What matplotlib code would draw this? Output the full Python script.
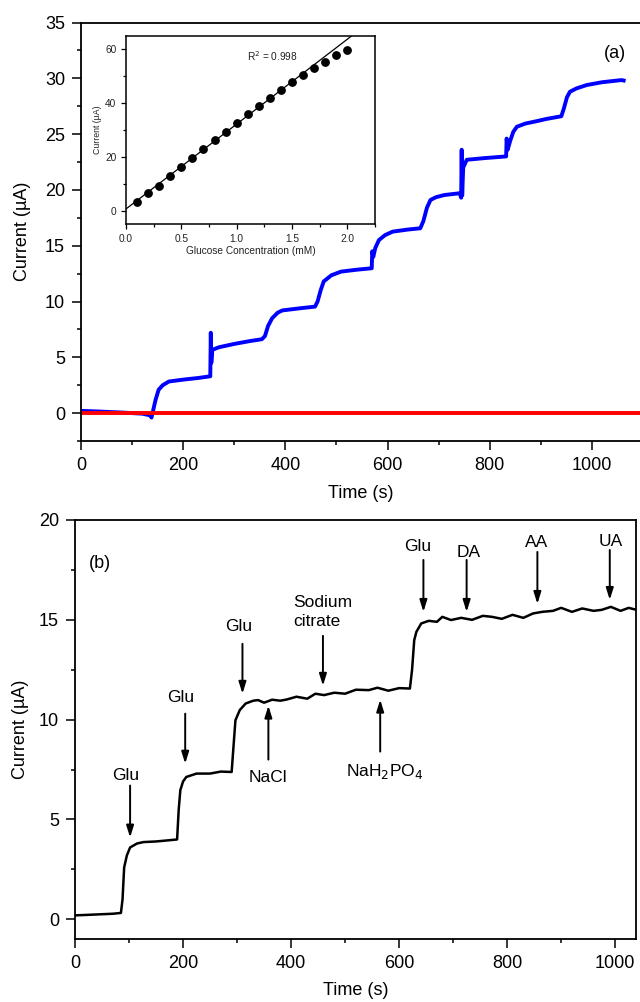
"""
Amperometric glucose response: (a) successive glucose additions with
calibration inset, (b) interference test with common species.
"""

import matplotlib.pyplot as plt
from matplotlib.ticker import MultipleLocator

plt.rcParams["font.family"] = ["Liberation Sans", "DejaVu Sans"]

# ── Panel (a): step response ──────────────────────────────────────────────────
TIME_A = [0, 30, 80, 120, 135, 138, 140, 146, 152, 160, 172, 200, 230, 253,
          254, 255, 257, 270, 300, 330, 354, 360, 366, 374, 385, 394, 430, 458,
          463, 469, 475, 490, 509, 540, 569, 570, 572, 576, 583, 595, 610, 640,
          664, 670, 677, 684, 695, 711, 741, 744, 745, 746, 748, 755, 790, 832,
          833, 835, 840, 846, 853, 870, 886, 910, 940, 945, 951, 957, 970, 990,
          1020, 1058, 1062]
CURRENT_A = [0.2, 0.15, 0.05, -0.05, -0.2, -0.4, 0.0, 1.2, 2.1, 2.5, 2.83, 3.0,
             3.15, 3.3, 7.2, 4.5, 5.67, 5.9, 6.2, 6.45, 6.62, 6.9, 7.8, 8.5,
             9.0, 9.2, 9.4, 9.54, 10.0, 11.0, 11.8, 12.35, 12.68, 12.85, 12.98,
             14.5, 14.0, 14.8, 15.5, 15.95, 16.26, 16.45, 16.56, 17.2, 18.4,
             19.1, 19.35, 19.54, 19.7, 19.3, 23.6, 19.5, 22.0, 22.7, 22.85,
             23.0, 24.6, 23.6, 24.4, 25.2, 25.66, 25.95, 26.1, 26.35, 26.6,
             27.3, 28.3, 28.8, 29.1, 29.4, 29.65, 29.84, 29.8]
BLANK_TIME = [0, 1100]
BLANK_CURRENT = [0.0, 0.0]

# Inset: calibration points
CONC = [0.1, 0.2, 0.3, 0.4, 0.5, 0.6, 0.7, 0.8, 0.9, 1.0,
        1.1, 1.2, 1.3, 1.4, 1.5, 1.6, 1.7, 1.8, 1.9, 2.0]
CAL_CURRENT = [3.1, 6.4, 9.3, 13.0, 16.3, 19.7, 22.9, 26.1, 29.4, 32.7,
               35.9, 39.1, 42.1, 44.9, 47.9, 50.6, 53.1, 55.5, 57.8, 59.8]
FIT_SLOPE = 31.6
FIT_INTERCEPT = 0.6

# ── Panel (b): interference test ──────────────────────────────────────────────
TIME_B = [1, 20, 45, 70, 85, 88, 91, 96, 102, 115, 127, 150, 170, 189, 192, 195,
          200, 206, 225, 250, 270, 290, 293, 297, 305, 316, 330, 339, 350, 365,
          380, 392, 410, 430, 445, 461, 480, 500, 520, 544, 560, 580, 600, 620,
          624, 628, 632, 641, 655, 670, 680, 696, 715, 735, 755, 772, 790, 810,
          830, 848, 865, 885, 900, 920, 939, 960, 975, 992, 1010, 1025, 1041]
CURRENT_B = [0.2, 0.22, 0.25, 0.28, 0.32, 1.0, 2.6, 3.2, 3.6, 3.8, 3.87, 3.9,
             3.95, 4.0, 5.5, 6.47, 6.9, 7.13, 7.3, 7.3, 7.4, 7.38, 8.5, 9.97,
             10.48, 10.81, 10.95, 10.98, 10.85, 11.0, 10.95, 11.01, 11.15,
             11.05, 11.3, 11.23, 11.35, 11.3, 11.5, 11.48, 11.6, 11.45, 11.58,
             11.56, 12.5, 13.98, 14.4, 14.82, 14.95, 14.9, 15.15, 14.99, 15.1,
             15.0, 15.2, 15.15, 15.05, 15.25, 15.1, 15.32, 15.4, 15.45, 15.6,
             15.4, 15.57, 15.45, 15.5, 15.65, 15.45, 15.6, 15.49]

# Arrow annotations: label, arrow x, tail y, head y, text x, text y
LABELS = ["Glu", "Glu", "Glu", "NaCl", "Sodium\ncitrate", "NaH$_2$PO$_4$",
          "Glu", "DA", "AA", "UA"]
ARROW_X = [102, 204, 310, 358, 459, 565, 645, 725, 856, 990]
ARROW_TAIL = [6.7, 10.3, 13.8, 8.0, 14.2, 8.4, 18.0, 18.0, 18.4, 18.5]
ARROW_HEAD = [4.1, 7.8, 11.3, 10.7, 11.7, 11.0, 15.4, 15.4, 15.8, 16.0]
TEXT_X = [93, 195, 303, 358, 404, 574, 635, 729, 854, 992]
TEXT_Y = [7.2, 11.1, 14.65, 7.1, 15.4, 7.4, 18.65, 18.35, 18.85, 18.9]

TICK_KW = dict(direction="out", width=1.1)


def style_axis(ax):
    ax.tick_params(which="major", length=6.5, labelsize=13, pad=5, **TICK_KW)
    ax.tick_params(which="minor", length=3.2, **TICK_KW)
    for s in ax.spines.values():
        s.set_linewidth(1.3)


fig = plt.figure(figsize=(6.4, 10.02), dpi=100)

# ── (a) ──
ax_a = fig.add_axes([81 / 640, 1 - 441 / 1002, 1 - 81 / 640, (441 - 22.5) / 1002])
ax_a.plot(TIME_A, CURRENT_A, color="#0000ff", lw=2.8, solid_joinstyle="round")
ax_a.plot(BLANK_TIME, BLANK_CURRENT, color="#ff0000", lw=2.8)
ax_a.set_xlim(0, 1094)
ax_a.set_ylim(-2.5, 35)
ax_a.xaxis.set_major_locator(MultipleLocator(200))
ax_a.xaxis.set_minor_locator(MultipleLocator(100))
ax_a.yaxis.set_major_locator(MultipleLocator(5))
ax_a.yaxis.set_minor_locator(MultipleLocator(2.5))
style_axis(ax_a)
ax_a.spines["right"].set_visible(False)
ax_a.set_xlabel("Time (s)", fontsize=13, labelpad=8)
ax_a.set_ylabel("Current (µA)", fontsize=13, labelpad=10)
ax_a.text(1045, 32.2, "(a)", fontsize=13, ha="center", va="center")

# inset
ax_in = fig.add_axes([126 / 640, 1 - 224 / 1002, (375 - 126) / 640, (224 - 36) / 1002])
ax_in.plot(CONC, CAL_CURRENT, "o", color="black", ms=5.3)
fit_x = [0, 2.25]
ax_in.plot(fit_x, [FIT_INTERCEPT + FIT_SLOPE * x for x in fit_x],
           color="black", lw=0.9)
ax_in.set_xlim(0, 2.25)
ax_in.set_ylim(-5, 65)
ax_in.xaxis.set_major_locator(MultipleLocator(0.5))
ax_in.xaxis.set_minor_locator(MultipleLocator(0.25))
ax_in.yaxis.set_major_locator(MultipleLocator(20))
ax_in.yaxis.set_minor_locator(MultipleLocator(10))
ax_in.tick_params(which="major", length=3.5, labelsize=7.3, direction="out",
                  width=0.9, labelcolor="#222")
ax_in.tick_params(which="minor", length=2, direction="out", width=0.9)
for s in ax_in.spines.values():
    s.set_linewidth(1.1)
ax_in.set_xlabel("Glucose Concentration (mM)", fontsize=7.3, color="#222", labelpad=2)
ax_in.set_ylabel("Current (µA)", fontsize=6.3, color="#222", labelpad=2)
ax_in.text(1.09, 57.5, "R$^2$ = 0.998", fontsize=7.3, color="#222", va="center")

# ── (b) ──
ax_b = fig.add_axes([75 / 640, 1 - 939.3 / 1002, (635.7 - 75) / 640, (939.3 - 520) / 1002])
ax_b.plot(TIME_B, CURRENT_B, color="black", lw=1.8)
ax_b.set_xlim(0, 1038)
ax_b.set_ylim(-1, 20)
ax_b.xaxis.set_major_locator(MultipleLocator(200))
ax_b.xaxis.set_minor_locator(MultipleLocator(100))
ax_b.yaxis.set_major_locator(MultipleLocator(5))
ax_b.yaxis.set_minor_locator(MultipleLocator(2.5))
style_axis(ax_b)
ax_b.set_xlabel("Time (s)", fontsize=13, labelpad=7)
ax_b.set_ylabel("Current (µA)", fontsize=13, labelpad=7)
ax_b.text(46, 17.8, "(b)", fontsize=13, ha="center", va="center")

for lab, ax_x, y0, y1, tx, ty in zip(LABELS, ARROW_X, ARROW_TAIL, ARROW_HEAD,
                                     TEXT_X, TEXT_Y):
    ax_b.annotate("", xy=(ax_x, y1), xytext=(ax_x, y0),
                  arrowprops=dict(arrowstyle="-|>,head_length=0.7,head_width=0.22",
                                  color="black", lw=1.4, shrinkA=0, shrinkB=0))
    if "\n" in lab:
        ax_b.text(tx, ty, lab, fontsize=12.5, ha="left", va="center", linespacing=1.3)
    else:
        ax_b.text(tx, ty, lab, fontsize=12.5, ha="center", va="center")

fig.savefig("out.png", dpi=100)
